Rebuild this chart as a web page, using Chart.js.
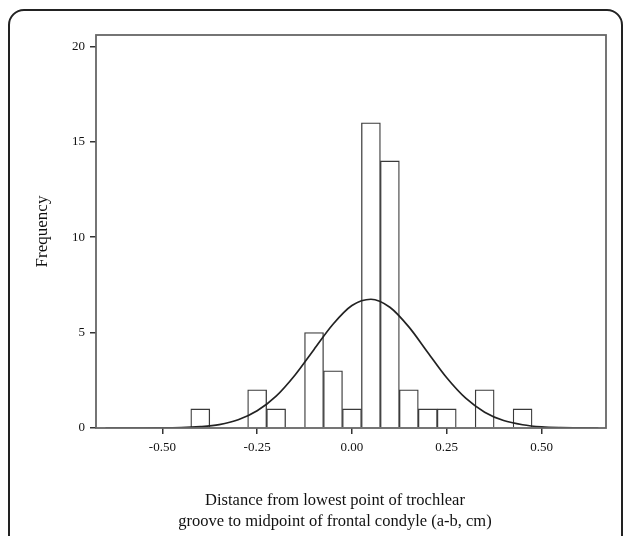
<!DOCTYPE html>
<html>
<head>
<meta charset="utf-8">
<script src="https://cdn.jsdelivr.net/npm/chart.js@4.4.0/dist/chart.umd.min.js"></script>
<style>
  html, body { margin: 0; padding: 0; background: #fff; overflow: hidden; }
  #frame { position: absolute; left: 8px; top: 9px; width: 611px; height: 640px; border: 2px solid #222; border-radius: 16px; }
  #wrap { position: absolute; left: 0; top: 0; width: 627px; height: 536px; }
  #xtitle { position: absolute; left: 135px; width: 400px; top: 489px; text-align: center;
            font: 16.5px/21px 'Liberation Serif'; color: #111; white-space: nowrap; }
</style>
</head>
<body>
<div id="frame"></div>
<div id="wrap"><canvas id="myChart" width="627" height="536"></canvas></div>
<div id="xtitle">Distance from lowest point of trochlear<br>groove to midpoint of frontal condyle (a-b, cm)</div>
<script>
// histogram bins (centre of each 0.05 wide bin) and counts
const binCenters = [-0.40, -0.35, -0.30, -0.25, -0.20, -0.15, -0.10, -0.05, 0.00,
                    0.05, 0.10, 0.15, 0.20, 0.25, 0.30, 0.35, 0.40, 0.45];
const frequencies = [1, 0, 0, 2, 1, 0, 5, 3, 1, 16, 14, 2, 1, 1, 0, 2, 0, 1];

// normal curve
const curveX = [-0.65, -0.60, -0.55, -0.50, -0.45, -0.40, -0.35, -0.30, -0.25, -0.20, -0.15, -0.10, -0.05,
                0.00, 0.05, 0.10, 0.15, 0.20, 0.25, 0.30, 0.35, 0.40, 0.45, 0.50, 0.55, 0.60, 0.65];
const curveY = [0.00, 0.00, 0.00, 0.01, 0.02, 0.07, 0.18, 0.43, 0.90, 1.67, 2.78, 4.12, 5.44,
                6.42, 6.75, 6.33, 5.30, 3.96, 2.63, 1.56, 0.83, 0.39, 0.17, 0.06, 0.02, 0.01, 0.00];

const xTickValues = [-0.50, -0.25, 0.00, 0.25, 0.50];
const yTickValues = [0, 5, 10, 15, 20];

const serif = 'Liberation Serif';

// box round the plot area
const plotBox = {
  id: 'plotBox',
  afterDraw(chart) {
    const {ctx, chartArea: a} = chart;
    ctx.save();
    ctx.strokeStyle = '#666';
    ctx.lineWidth = 1.8;
    ctx.strokeRect(a.left, a.top, a.right - a.left, a.bottom - a.top);
    ctx.restore();
  }
};

document.addEventListener('DOMContentLoaded', () => {
  const ctx = document.getElementById('myChart').getContext('2d');
  const myChart = new Chart(ctx, {
    data: {
      datasets: [{
        type: 'line',
        data: curveX.map((x, i) => ({x: x, y: curveY[i]})),
        borderColor: '#222',
        borderWidth: 1.7,
        pointRadius: 0,
        fill: false,
        cubicInterpolationMode: 'monotone',
        order: 0
      }, {
        type: 'bar',
        data: binCenters.map((x, i) => ({x: x, y: frequencies[i]})),
        backgroundColor: '#fff',
        borderColor: '#3a3a3a',
        borderWidth: 1.3,
        barPercentage: 1,
        categoryPercentage: 1,
        order: 1
      }]
    },
    options: {
      responsive: false,
      animation: false,
      layout: { padding: { left: 0, top: 35, right: 21, bottom: 0 } },
      plugins: { legend: { display: false }, tooltip: { enabled: false } },
      scales: {
        x: {
          type: 'linear',
          min: -0.675,
          max: 0.67,
          offset: false,
          afterBuildTicks: s => { s.ticks = xTickValues.map(v => ({value: v})); },
          afterFit: s => { s.height = 108; },
          grid: { drawOnChartArea: false, drawTicks: true, tickLength: 6, lineWidth: 1.5, color: '#333', offset: false },
          border: { display: false },
          ticks: {
            padding: 6,
            color: '#111',
            font: { family: serif, size: 13 },
            callback: v => v.toFixed(2)
          }
        },
        y: {
          min: 0,
          max: 20.6,
          afterBuildTicks: s => { s.ticks = yTickValues.map(v => ({value: v})); },
          afterFit: s => { s.width = 96; },
          grid: { drawOnChartArea: false, drawTicks: true, tickLength: 6, lineWidth: 1.5, color: '#333' },
          border: { display: false },
          ticks: {
            padding: 5,
            color: '#111',
            font: { family: serif, size: 13 }
          },
          title: {
            display: true,
            text: 'Frequency',
            color: '#111',
            font: { family: serif, size: 17, lineHeight: 1.2 },
            padding: { top: 32, bottom: 0 }
          }
        }
      }
    },
    plugins: [plotBox]
  });
});
</script>
</body>
</html>
